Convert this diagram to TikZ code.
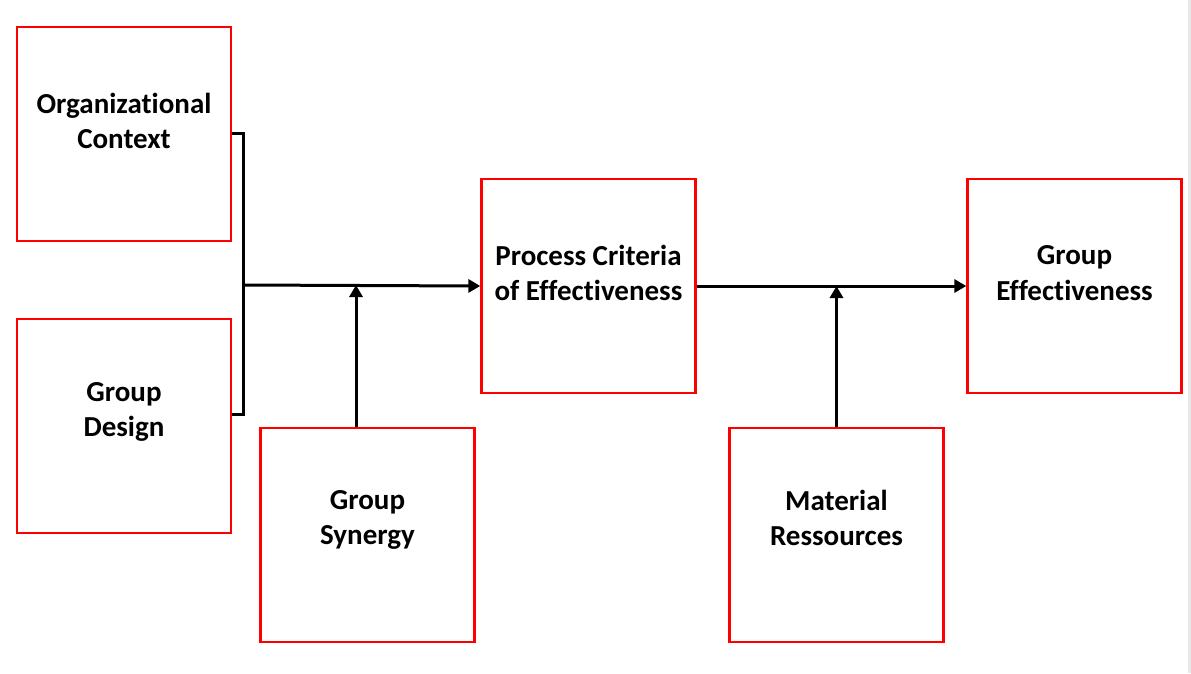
\documentclass[tikz,border=0pt]{standalone}
\usepackage{fontspec}
\setmainfont[Ligatures=NoCommon]{Carlito}
\usetikzlibrary{arrows.meta}
\begin{document}
\begin{tikzpicture}[x=1pt,y=-1pt,
  box/.style={draw=red,line width=2.3pt,minimum width=214pt,minimum height=214pt,inner sep=0pt},
  lbl/.style={align=center,font=\fontsize{29}{35.5}\selectfont\bfseries,inner sep=0pt},
  conn/.style={line width=3pt,black},
  arr/.style={conn,-{Triangle[length=12pt,width=13pt]}}]
\path[use as bounding box,fill=white] (0,0) rectangle (1191,673);
\fill[gray!18] (1188,0) rectangle (1191,673);
\node[box] (oc) at (124,134) {};
\node[box] (gd) at (124,426) {};
\node[box] (gs) at (367.5,535) {};
\node[box] (pc) at (588.5,286) {};
\node[box] (mr) at (836.5,535) {};
\node[box] (ge) at (1074.5,286) {};
\node[lbl] (toc) at ([yshift=13pt]oc.center) {Organizational\\Context};
\node[lbl] (tgd) at ([yshift=14pt]gd.center) {Group\\Design};
\node[lbl] (tgs) at ([yshift=15pt]gs.center) {Group\\Synergy};
\node[lbl] (tpc) at ([yshift=13pt]pc.center) {Process Criteria\\of Effectiveness};
\node[lbl] (tmr) at ([yshift=17pt]mr.center) {Material\\Ressources};
\node[lbl] (tge) at ([yshift=13pt]ge.center) {Group\\Effectiveness};
\coordinate (j) at (243,285);
\draw[conn] ([yshift=1pt]oc.east) -| (j);
\draw[conn] ([yshift=12pt]gd.east) -| (j);
\draw[arr] (j) -- (pc.west);
\draw[arr] (pc.east) -- (ge.west);
\draw[arr] ([xshift=-11.5pt]gs.north) -- ([xshift=-11.5pt]gs.north |- j);
\draw[arr] (mr.north) -- (mr.north |- pc.east);
\end{tikzpicture}
\end{document}
